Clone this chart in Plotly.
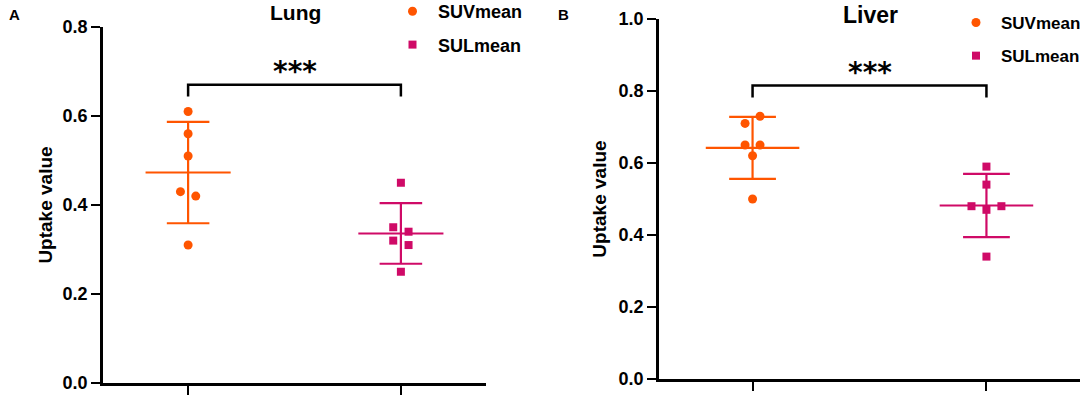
import plotly.graph_objects as go

# ---------------- data ----------------
groups = ["SUVmean", "SULmean"]
group_pos = [1, 2]

lung_suv = [0.61, 0.56, 0.51, 0.43, 0.42, 0.31]
lung_suv_jit = [0, 0, 0, -0.036, 0.036, 0]
lung_sul = [0.45, 0.35, 0.34, 0.32, 0.31, 0.25]
lung_sul_jit = [0, -0.036, 0.036, -0.036, 0.036, 0]
lung_mean = [0.473, 0.336]
lung_sd = [0.114, 0.068]

liver_suv = [0.73, 0.71, 0.65, 0.65, 0.62, 0.50]
liver_suv_jit = [0.032, -0.032, -0.032, 0.032, 0, 0]
liver_sul = [0.59, 0.54, 0.48, 0.47, 0.48, 0.34]
liver_sul_jit = [0, 0, -0.064, 0, 0.064, 0]
liver_mean = [0.642, 0.482]
liver_sd = [0.086, 0.088]

panel_titles = ["Lung", "Liver"]
panel_letters = ["A", "B"]
sig_labels = ["***", "***"]
bracket_y = [0.670, 0.815]
bracket_drop = [0.026, 0.033]
y_max = [0.8, 1.0]

colors = ["#FF5500", "#CF0A67"]
symbols = ["circle", "square"]
msize = [9, 8]

FONT = "Arial, Liberation Sans, sans-serif"

fig = go.Figure()

panels = [
    dict(vals=[lung_suv, lung_sul], jit=[lung_suv_jit, lung_sul_jit], mean=lung_mean, sd=lung_sd,
         xa="x", ya="y", legend="legend"),
    dict(vals=[liver_suv, liver_sul], jit=[liver_suv_jit, liver_sul_jit], mean=liver_mean, sd=liver_sd,
         xa="x2", ya="y2", legend="legend2"),
]

for p in panels:
    for g in range(2):
        xc = group_pos[g]
        m = p["mean"][g]
        s = p["sd"][g]
        # mean + SD lines
        lx = [xc - 0.2, xc + 0.2, None, xc, xc, None, xc - 0.1, xc + 0.1, None, xc - 0.1, xc + 0.1]
        ly = [m, m, None, m - s, m + s, None, m + s, m + s, None, m - s, m - s]
        fig.add_trace(go.Scatter(x=lx, y=ly, mode="lines", line=dict(color=colors[g], width=2.2),
                                 xaxis=p["xa"], yaxis=p["ya"], showlegend=False, hoverinfo="skip"))
        fig.add_trace(go.Scatter(
            x=[xc + j for j in p["jit"][g]], y=p["vals"][g], mode="markers",
            marker=dict(symbol=symbols[g], size=msize[g], color=colors[g], line=dict(width=0)),
            name=groups[g], xaxis=p["xa"], yaxis=p["ya"], legend=p["legend"], legendgroup=groups[g]))

# brackets and stars
for i, (xa, ya) in enumerate([("x", "y"), ("x2", "y2")]):
    by = bracket_y[i]
    bd = bracket_drop[i]
    fig.add_trace(go.Scatter(
        x=[group_pos[0], group_pos[0], group_pos[1], group_pos[1]],
        y=[by - bd, by, by, by - bd], mode="lines", line=dict(color="black", width=2.5),
        xaxis=xa, yaxis=ya, showlegend=False, hoverinfo="skip"))
    fig.add_annotation(x=(group_pos[0] + group_pos[1]) / 2, y=by, xref=xa, yref=ya,
                       text=sig_labels[i], showarrow=False, yanchor="bottom", yshift=-5,
                       font=dict(family="DejaVu Sans", size=28, color="black", weight="bold"))

axis_common = dict(showgrid=False, zeroline=False, showline=True, linecolor="black", linewidth=2.5,
                   ticks="outside", ticklen=9, tickwidth=2.2, tickcolor="black")

fig.update_layout(
    width=1084, height=398, margin=dict(l=0, r=0, t=0, b=0, autoexpand=False),
    plot_bgcolor="white", paper_bgcolor="white",
    xaxis=dict(domain=[103 / 1084, 486 / 1084], range=[0.6, 2.4], tickvals=group_pos,
               showticklabels=False, **axis_common),
    yaxis=dict(domain=[1 - 383 / 398, 1 - 27 / 398], range=[0, y_max[0]], dtick=0.2, tickformat=".1f",
               title=dict(text="Uptake value", font=dict(family=FONT, size=19, color="black", weight="bold"), standoff=5),
               tickfont=dict(family=FONT, size=18, color="black", weight="bold"), **axis_common),
    xaxis2=dict(domain=[659 / 1084, 1080 / 1084], range=[0.6, 2.4], tickvals=group_pos,
                showticklabels=False, anchor="y2", **axis_common),
    yaxis2=dict(domain=[1 - 379 / 398, 1 - 19 / 398], range=[0, y_max[1]], dtick=0.2, tickformat=".1f",
                anchor="x2",
                title=dict(text="Uptake value", font=dict(family=FONT, size=19, color="black", weight="bold"), standoff=7),
                tickfont=dict(family=FONT, size=18, color="black", weight="bold"), **axis_common),
    legend=dict(x=387 / 1084, y=1 + 7 / 398, xanchor="left", yanchor="top", bgcolor="rgba(0,0,0,0)",
                font=dict(family=FONT, size=18, color="black", weight="bold"),
                traceorder="grouped", tracegroupgap=7, itemwidth=41),
    legend2=dict(x=951 / 1084, y=1 - 5 / 398, xanchor="left", yanchor="top", bgcolor="rgba(0,0,0,0)",
                 font=dict(family=FONT, size=17, color="black", weight="bold"),
                 traceorder="grouped", tracegroupgap=8, itemwidth=40),
)

# panel titles and letters
fig.add_annotation(x=295 / 1084, y=1 - 13 / 398, xref="paper", yref="paper", text=panel_titles[0],
                   xanchor="center", yanchor="middle", showarrow=False,
                   font=dict(family=FONT, size=21, color="black", weight="bold"))
fig.add_annotation(x=870 / 1084, y=1 - 15 / 398, xref="paper", yref="paper", text=panel_titles[1],
                   xanchor="center", yanchor="middle", showarrow=False,
                   font=dict(family=FONT, size=23, color="black", weight="bold"))
fig.add_annotation(x=14 / 1084, y=1 - 15 / 398, xref="paper", yref="paper", text=panel_letters[0],
                   xanchor="center", yanchor="middle", showarrow=False,
                   font=dict(family=FONT, size=15, color="black", weight="bold"))
fig.add_annotation(x=563 / 1084, y=1 - 15 / 398, xref="paper", yref="paper", text=panel_letters[1],
                   xanchor="center", yanchor="middle", showarrow=False,
                   font=dict(family=FONT, size=15, color="black", weight="bold"))

fig.write_html("out.html", config={"displayModeBar": False},
               post_script="document.body.style.margin='0';document.body.style.padding='0';")
